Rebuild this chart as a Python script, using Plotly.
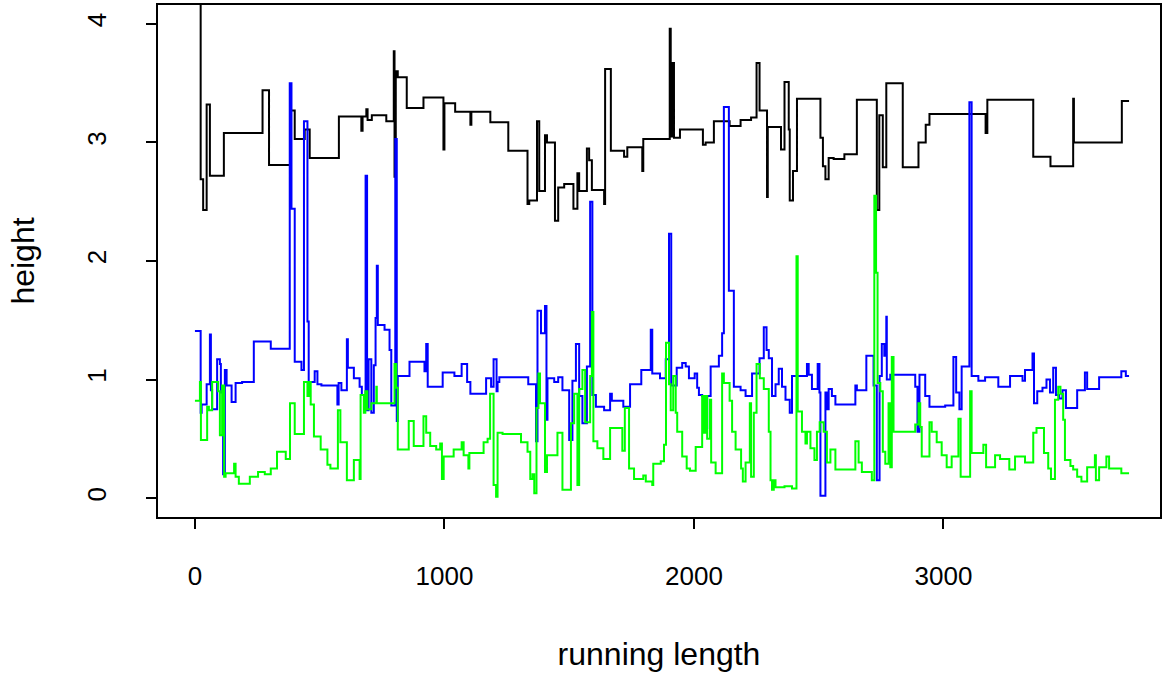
import plotly.graph_objects as go

# Step series: (running length, height) where each new level starts
black_steps = [
    (0, 4.35), (23, 2.69), (33, 2.43), (47, 3.32), (60, 2.72), (116, 3.08), (271, 3.44),
    (297, 2.81), (383, 3.27), (400, 3.03), (440, 3.11), (460, 2.87), (577, 3.22), (667, 3.10),
    (672, 3.22), (687, 3.28), (692, 3.19), (709, 3.23), (767, 3.18), (797, 3.77), (800, 2.71),
    (805, 3.60), (813, 3.55), (849, 3.29), (916, 3.38), (996, 2.94), (1000, 3.33), (1043, 3.26),
    (1104, 3.15), (1108, 3.26), (1184, 3.17), (1256, 2.93), (1333, 2.48), (1340, 2.51),
    (1371, 3.18), (1380, 2.59), (1403, 3.06), (1411, 3.00), (1443, 2.34), (1456, 2.62),
    (1480, 2.65), (1517, 2.44), (1533, 2.74), (1540, 2.59), (1571, 2.95), (1580, 2.85),
    (1591, 2.60), (1640, 2.48), (1644, 3.62), (1667, 2.93), (1720, 2.88), (1733, 2.96),
    (1793, 2.76), (1797, 3.03), (1903, 3.96), (1907, 3.05), (1913, 3.67), (1920, 3.04),
    (1944, 3.11), (2036, 2.98), (2047, 3.00), (2080, 3.18), (2143, 3.14), (2187, 3.19),
    (2229, 3.21), (2251, 3.67), (2263, 3.27), (2293, 2.54), (2296, 3.13), (2349, 2.94),
    (2363, 3.51), (2380, 3.11), (2384, 2.51), (2397, 2.76), (2413, 3.37), (2507, 3.04),
    (2517, 2.80), (2527, 2.69), (2540, 2.87), (2560, 2.86), (2603, 2.90), (2653, 3.36),
    (2733, 2.43), (2743, 3.23), (2757, 2.79), (2771, 3.50), (2837, 2.79), (2900, 3.00),
    (2929, 3.15), (2944, 3.24), (3169, 3.08), (3176, 3.36), (3360, 2.88), (3429, 2.80),
    (3520, 3.37), (3523, 3.00), (3715, 3.35), (3744, 3.35),
]

blue_steps = [
    (0, 1.41), (23, 0.72), (27, 0.79), (47, 0.96), (60, 1.38), (64, 0.91), (69, 0.75),
    (89, 1.17), (100, 1.13), (104, 0.89), (113, 0.20), (120, 1.08), (127, 0.95), (147, 0.81),
    (163, 0.97), (189, 0.98), (236, 1.32), (304, 1.26), (380, 3.50), (387, 2.44), (400, 1.15),
    (427, 1.08), (437, 3.18), (451, 1.49), (456, 0.98), (480, 1.07), (491, 0.96), (507, 0.95),
    (571, 0.79), (576, 0.97), (587, 0.91), (609, 1.34), (613, 1.10), (637, 1.01), (660, 0.94),
    (669, 0.87), (684, 2.72), (690, 0.74), (696, 1.17), (707, 0.72), (717, 1.12), (724, 1.52),
    (729, 1.96), (733, 1.46), (760, 1.42), (780, 1.25), (787, 0.78), (803, 3.03), (809, 0.65),
    (813, 1.03), (860, 1.15), (920, 1.07), (927, 1.30), (933, 0.94), (993, 1.06), (1040, 1.03),
    (1069, 1.13), (1091, 0.98), (1104, 0.88), (1167, 1.01), (1187, 0.94), (1197, 1.17),
    (1209, 0.90), (1213, 0.98), (1220, 1.02), (1336, 0.96), (1367, 0.48), (1373, 1.58),
    (1387, 1.39), (1403, 1.62), (1409, 0.66), (1413, 1.01), (1440, 0.98), (1456, 1.02),
    (1473, 0.91), (1500, 0.49), (1513, 0.99), (1527, 1.30), (1540, 0.86), (1553, 0.63),
    (1571, 1.11), (1584, 2.50), (1593, 0.87), (1607, 0.77), (1640, 0.74), (1664, 0.88),
    (1671, 0.82), (1717, 0.77), (1744, 0.96), (1789, 1.08), (1827, 1.42), (1833, 1.05),
    (1864, 1.01), (1887, 1.17), (1900, 2.23), (1909, 0.95), (1931, 1.10), (1953, 1.14),
    (1967, 1.11), (1980, 1.01), (2003, 1.05), (2013, 0.93), (2020, 0.87), (2033, 0.86),
    (2047, 0.59), (2053, 0.86), (2067, 1.11), (2100, 1.20), (2113, 1.39), (2120, 3.30),
    (2140, 1.75), (2160, 0.94), (2187, 0.91), (2207, 0.86), (2233, 1.05), (2263, 1.18),
    (2280, 1.44), (2291, 1.25), (2300, 1.18), (2313, 0.86), (2327, 0.96), (2340, 1.09),
    (2353, 0.94), (2367, 0.83), (2384, 0.72), (2393, 1.03), (2453, 1.13), (2460, 1.04),
    (2473, 0.92), (2496, 1.13), (2503, 0.89), (2507, 0.02), (2527, 0.89), (2533, 0.75),
    (2540, 0.92), (2553, 0.86), (2567, 0.79), (2647, 0.95), (2653, 0.91), (2691, 1.20),
    (2720, 0.95), (2733, 0.15), (2744, 1.03), (2753, 1.30), (2763, 1.20), (2771, 1.53),
    (2773, 1.00), (2787, 1.04), (2887, 0.94), (2896, 0.56), (2904, 1.04), (2927, 0.86),
    (2944, 0.77), (3007, 0.78), (3040, 1.19), (3051, 0.89), (3064, 0.75), (3073, 1.11),
    (3104, 3.34), (3113, 1.03), (3140, 0.99), (3167, 1.02), (3220, 0.94), (3267, 1.03),
    (3317, 0.99), (3327, 1.08), (3357, 1.22), (3363, 0.80), (3376, 0.90), (3397, 0.93),
    (3413, 1.00), (3427, 0.89), (3440, 1.10), (3451, 0.87), (3464, 0.84), (3477, 0.91),
    (3491, 0.76), (3536, 0.91), (3567, 1.06), (3576, 0.92), (3624, 1.02), (3713, 1.07),
    (3731, 1.03), (3744, 1.03),
]

green_steps = [
    (0, 0.82), (20, 0.98), (24, 0.49), (49, 0.77), (56, 0.74), (69, 0.98), (93, 0.90),
    (100, 0.53), (109, 0.95), (117, 0.18), (123, 0.21), (157, 0.29), (163, 0.18), (176, 0.12),
    (220, 0.18), (253, 0.22), (280, 0.20), (304, 0.25), (329, 0.39), (364, 0.33), (381, 0.80),
    (400, 0.54), (437, 0.98), (451, 0.86), (456, 0.98), (464, 0.79), (477, 0.52), (504, 0.41),
    (531, 0.28), (543, 0.25), (573, 0.74), (583, 0.47), (609, 0.15), (637, 0.32), (660, 0.16),
    (664, 0.87), (677, 0.72), (683, 0.90), (691, 0.75), (707, 0.80), (727, 0.94), (729, 0.80),
    (787, 0.80), (800, 1.13), (807, 0.93), (813, 0.41), (857, 0.65), (877, 0.44), (916, 0.69),
    (927, 0.55), (943, 0.44), (967, 0.41), (983, 0.46), (990, 0.16), (997, 0.35), (1037, 0.41),
    (1069, 0.47), (1077, 0.36), (1096, 0.25), (1100, 0.38), (1157, 0.47), (1173, 0.50),
    (1183, 0.88), (1197, 0.11), (1207, 0.01), (1213, 0.55), (1233, 0.54), (1307, 0.47),
    (1333, 0.39), (1344, 0.16), (1353, 0.20), (1360, 0.04), (1369, 0.76), (1377, 1.05),
    (1383, 0.80), (1403, 0.22), (1411, 0.36), (1453, 0.55), (1473, 0.07), (1507, 0.63),
    (1520, 0.88), (1533, 0.11), (1540, 0.92), (1553, 1.08), (1564, 0.64), (1584, 1.03),
    (1591, 1.57), (1597, 0.48), (1613, 0.42), (1637, 0.33), (1664, 0.59), (1713, 0.40),
    (1723, 0.76), (1740, 0.25), (1760, 0.16), (1797, 0.19), (1807, 0.14), (1833, 0.11),
    (1837, 0.29), (1867, 0.31), (1880, 0.45), (1888, 1.31), (1900, 0.96), (1907, 0.74),
    (1917, 1.03), (1927, 0.72), (1933, 0.56), (1953, 0.35), (1971, 0.25), (1984, 0.23),
    (2007, 0.43), (2033, 0.86), (2040, 0.55), (2047, 0.86), (2053, 0.50), (2064, 0.83),
    (2069, 0.30), (2087, 0.21), (2113, 1.05), (2120, 0.97), (2143, 0.82), (2153, 0.56),
    (2167, 0.41), (2189, 0.25), (2196, 0.14), (2207, 0.30), (2224, 0.80), (2229, 0.18),
    (2240, 0.72), (2251, 1.13), (2264, 1.01), (2280, 0.92), (2300, 0.56), (2307, 0.15),
    (2313, 0.07), (2320, 0.15), (2327, 0.09), (2363, 0.10), (2393, 0.08), (2411, 2.04),
    (2416, 0.73), (2433, 0.56), (2447, 0.46), (2453, 0.56), (2467, 0.42), (2483, 0.32),
    (2493, 0.56), (2504, 0.64), (2520, 0.56), (2533, 0.30), (2547, 0.41), (2567, 0.24),
    (2647, 0.48), (2660, 0.30), (2673, 0.22), (2713, 0.15), (2723, 2.55), (2730, 1.90),
    (2736, 0.97), (2747, 0.90), (2757, 0.39), (2767, 0.29), (2780, 0.80), (2787, 0.26),
    (2793, 1.19), (2800, 0.56), (2887, 0.62), (2900, 0.80), (2907, 0.60), (2913, 0.35),
    (2944, 0.64), (2953, 0.56), (2973, 0.47), (2993, 0.36), (3013, 0.26), (3033, 0.35),
    (3060, 0.67), (3069, 0.18), (3107, 0.90), (3113, 0.38), (3160, 0.45), (3171, 0.26),
    (3207, 0.36), (3227, 0.33), (3264, 0.24), (3287, 0.35), (3327, 0.30), (3360, 0.55),
    (3373, 0.59), (3403, 0.38), (3420, 0.25), (3431, 0.16), (3447, 0.83), (3460, 0.94),
    (3469, 0.88), (3480, 0.66), (3487, 0.32), (3509, 0.27), (3520, 0.24), (3536, 0.18),
    (3553, 0.14), (3576, 0.26), (3607, 0.36), (3611, 0.15), (3624, 0.26), (3653, 0.35),
    (3664, 0.25), (3713, 0.21), (3744, 0.21),
]

x_ticks = [0, 1000, 2000, 3000]
y_ticks = [0, 1, 2, 3, 4]

FONT = "Liberation Sans, Arial, Helvetica, sans-serif"

fig = go.Figure()
for steps, colour in [(black_steps, "#000000"), (blue_steps, "#0000ff"), (green_steps, "#00ff00")]:
    xs = [p[0] for p in steps]
    ys = [p[1] for p in steps]
    fig.add_trace(go.Scatter(
        x=xs, y=ys, mode="lines",
        line=dict(color=colour, width=2, shape="hv"),
        showlegend=False, hoverinfo="skip",
    ))

axis_common = dict(
    showgrid=False, zeroline=False,
    showline=True, mirror=True, linecolor="black", linewidth=1.5,
    ticks="outside", ticklen=10, tickwidth=1.5, tickcolor="black",
    tickfont=dict(family=FONT, size=26, color="black"),
)

title_font = dict(family=FONT, size=32, color="black")

fig.update_layout(
    width=1163, height=677,
    margin=dict(l=158, r=1, t=5, b=160, pad=0),
    paper_bgcolor="white", plot_bgcolor="white",
    xaxis=dict(
        range=[-148, 3868], tickvals=x_ticks, ticktext=[str(v) for v in x_ticks],
        ticklabelstandoff=25,
        title=dict(text="running length", font=title_font, standoff=53),
        **axis_common,
    ),
    yaxis=dict(
        range=[-0.16, 4.16], tickvals=y_ticks, ticktext=[str(v) for v in y_ticks],
        tickangle=-90, ticklabelstandoff=30,
        title=dict(text="height", font=title_font, standoff=38),
        **axis_common,
    ),
)

fig.write_html("out.html")
